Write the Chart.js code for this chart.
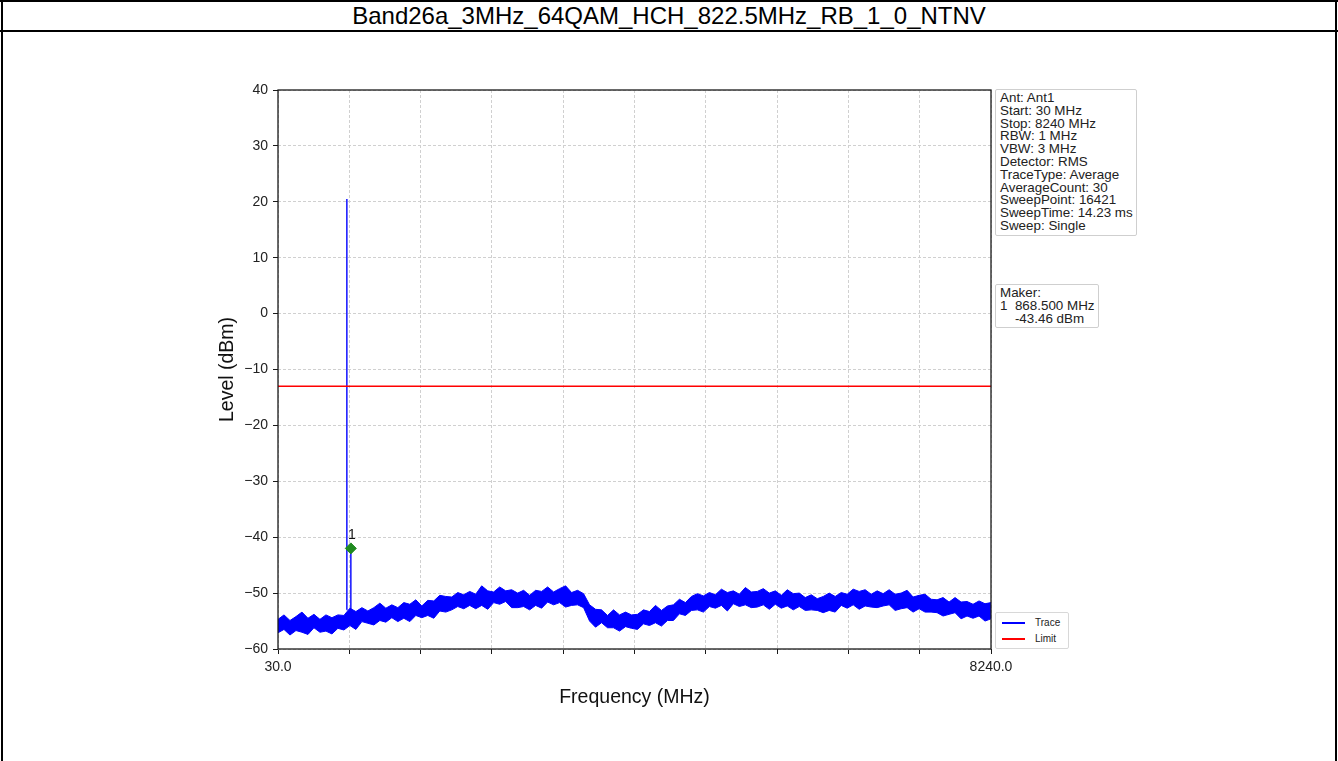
<!DOCTYPE html>
<html lang="en">
<head>
<meta charset="UTF-8" />
<title>Band26a spurious emission</title>
<script src="https://cdn.jsdelivr.net/npm/chart.js"></script>
<style>
  html, body { margin: 0; padding: 0; background: #fff; }
  body { width: 1338px; height: 761px; position: relative; overflow: hidden; font-family: "Liberation Sans", Arial, sans-serif; }
  #title { position: absolute; left: 0; top: 1px; width: 1338px; height: 29px; line-height: 29px; text-align: center; font-size: 24px; color: #000; }
  .frame { position: absolute; background: #000; }
  #chart { position: absolute; left: 0; top: 0; }
  .box { position: absolute; background: #fff; border: 1px solid #cfcfcf; border-radius: 2px; color: #222; font-size: 13.4px; line-height: 12.8px; padding: 2px 3px 2px 4px; white-space: pre; }
  #legend { position: absolute; left: 995px; top: 612px; width: 72px; height: 35px; border: 1px solid #d8d8d8; border-radius: 2px; background: #fff; font-size: 10px; color: #222; }
  #legend .row { position: absolute; left: 6px; height: 12px; line-height: 12px; }
  #legend .sw { display: inline-block; width: 23px; height: 2px; vertical-align: middle; margin-right: 10px; }
</style>
</head>
<body>
<div class="frame" style="left:0; top:0; width:1338px; height:2px;"></div>
<div id="title">Band26a_3MHz_64QAM_HCH_822.5MHz_RB_1_0_NTNV</div>
<div class="frame" style="left:1px; top:0; width:2px; height:761px;"></div>
<div class="frame" style="left:1335px; top:0; width:2px; height:761px;"></div>
<div class="frame" style="left:0; top:30px; width:1338px; height:2px;"></div>
<canvas id="chart" width="1338" height="761"></canvas>
<div id="info" class="box" style="left:995px; top:89px;"></div>
<div id="marker" class="box" style="left:995px; top:284px;"></div>
<div id="legend">
  <div class="row" style="top:4px;"><span class="sw" style="background:#0000ff;"></span>Trace</div>
  <div class="row" style="top:20px;"><span class="sw" style="background:#ff0000;"></span>Limit</div>
</div>
<script>
// sweep range (MHz)
const freqStart = 30;
const freqStop = 8240;

// noise floor of the averaged trace (dBm): upper and lower edge of the band,
// read at evenly spaced points over the sweep
const traceUpper = [
  -54.7,-53.9,-54.9,-54.2,-53.4,-54.5,-53.8,-54.7,-53.9,-54.4,
  -53.9,-54.0,-52.7,-53.3,-52.6,-53.2,-52.6,-51.8,-52.7,-52.1,
  -52.6,-51.7,-52.0,-51.2,-52.3,-51.3,-51.4,-50.4,-50.6,-50.7,
  -49.9,-50.3,-49.7,-50.2,-48.7,-49.6,-49.8,-48.9,-49.6,-49.4,
  -50.0,-49.5,-50.4,-49.5,-49.7,-48.9,-49.8,-49.2,-48.7,-49.9,
  -49.5,-50.1,-52.1,-52.9,-53.0,-54.0,-53.0,-53.9,-53.4,-53.9,
  -53.8,-53.0,-53.3,-52.2,-53.1,-52.3,-52.1,-51.1,-51.7,-50.6,
  -50.1,-50.5,-49.9,-50.3,-49.3,-49.9,-49.6,-50.2,-49.0,-49.8,
  -49.7,-49.2,-50.0,-49.6,-50.4,-49.4,-50.1,-50.0,-50.8,-50.3,
  -51.0,-50.6,-50.0,-50.6,-49.9,-50.2,-49.3,-49.7,-49.4,-50.2,
  -49.6,-50.1,-49.4,-50.2,-50.0,-49.5,-50.7,-50.4,-50.2,-51.1,
  -51.2,-50.8,-51.6,-50.8,-51.6,-51.5,-52.0,-51.4,-51.9,-51.7
];
const traceLower = [
  -57.1,-56.5,-57.5,-56.7,-57.0,-57.4,-56.2,-57.0,-56.8,-57.3,
  -56.3,-56.6,-55.8,-56.5,-55.1,-55.4,-55.7,-54.9,-55.2,-54.4,
  -55.1,-54.5,-55.1,-54.0,-54.4,-54.0,-54.5,-53.2,-53.4,-53.0,
  -52.4,-52.8,-52.2,-52.8,-52.2,-52.9,-51.7,-52.0,-51.5,-52.6,
  -52.6,-52.4,-53.0,-52.2,-52.7,-51.6,-52.1,-51.7,-52.5,-52.2,
  -52.1,-52.6,-55.0,-56.1,-55.3,-56.2,-56.2,-56.8,-56.0,-56.3,
  -56.5,-55.5,-55.8,-55.3,-55.9,-54.9,-54.9,-53.7,-54.0,-53.1,
  -53.0,-53.4,-52.4,-52.7,-52.2,-53.2,-51.9,-52.4,-52.1,-52.6,
  -52.5,-52.1,-52.9,-52.0,-52.7,-52.3,-53.0,-52.4,-53.1,-53.0,
  -53.1,-53.5,-53.1,-53.4,-52.2,-52.7,-52.1,-52.9,-52.3,-52.5,
  -52.6,-52.3,-52.1,-53.1,-52.8,-52.6,-53.4,-52.8,-53.4,-53.4,
  -53.5,-54.1,-53.8,-53.5,-54.6,-54.1,-54.5,-54.1,-55.0,-54.6
];

// carrier and marker peaks of the trace (null splits the two)
const spikeFreq = [821.5, 822.5, 823.5, 845.0, 867.5, 868.5, 869.5];
const spikeLevel = [-53.0, 20.5, -53.0, null, -53.2, -42.0, -53.2];

const limitLevel = -13;
const markerFreq = 868.5;
const markerLevel = -42.0;

const xTickValues = [30, 851, 1672, 2493, 3314, 4135, 4956, 5777, 6598, 7419, 8240];

const infoLines = ['Ant: Ant1', 'Start: 30 MHz', 'Stop: 8240 MHz', 'RBW: 1 MHz', 'VBW: 3 MHz',
  'Detector: RMS', 'TraceType: Average', 'AverageCount: 30', 'SweepPoint: 16421',
  'SweepTime: 14.23 ms', 'Sweep: Single'];
const markerLines = ['Maker:', '1  868.500 MHz', '    -43.46 dBm'];

document.getElementById('info').textContent = infoLines.join('\n');
document.getElementById('marker').textContent = markerLines.join('\n');

const step = (freqStop - freqStart) / (traceUpper.length - 1);
const upperPts = traceUpper.map((v, i) => ({ x: freqStart + i * step, y: v }));
const lowerPts = traceLower.map((v, i) => ({ x: freqStart + i * step, y: v }));
const spikePts = spikeFreq.map((f, i) => ({ x: f, y: spikeLevel[i] }));

const FONT = '"Liberation Sans", Arial, sans-serif';
const BLUE = '#0000ff';

const boxPlugin = {
  id: 'box',
  afterDraw(chart) {
    const { ctx, chartArea: a } = chart;
    ctx.save();
    ctx.strokeStyle = '#1a1a1a';
    ctx.lineWidth = 1.3;
    ctx.strokeRect(a.left, a.top, a.right - a.left, a.bottom - a.top);
    // marker number above the diamond
    const m = chart.getDatasetMeta(0).data[0];
    ctx.fillStyle = '#111';
    ctx.font = '14px ' + FONT;
    ctx.textAlign = 'center';
    ctx.textBaseline = 'middle';
    ctx.fillText('1', m.x + 1, m.y - 13);
    ctx.restore();
  }
};

new Chart(document.getElementById('chart'), {
  type: 'line',
  data: {
    datasets: [
      { label: 'Marker', data: [{ x: markerFreq, y: markerLevel }], showLine: false,
        pointStyle: 'rectRot', pointRadius: 5.5, backgroundColor: '#1f8a1f', borderColor: '#1f8a1f', order: 0 },
      { label: 'Limit', data: [{ x: freqStart, y: limitLevel }, { x: freqStop, y: limitLevel }],
        borderColor: '#ff0000', borderWidth: 1.3, pointRadius: 0, order: 1 },
      { label: 'Trace', data: spikePts, borderColor: BLUE, borderWidth: 1.4, pointRadius: 0,
        spanGaps: false, order: 2 },
      { label: 'Trace lower', data: lowerPts, borderColor: BLUE, borderWidth: 1, pointRadius: 0, order: 3 },
      { label: 'Trace upper', data: upperPts, borderColor: BLUE, borderWidth: 1, pointRadius: 0,
        fill: '-1', backgroundColor: BLUE, order: 3 }
    ]
  },
  options: {
    responsive: false,
    animation: false,
    layout: { padding: { left: 218, right: 347, top: 90, bottom: 54 } },
    plugins: { legend: { display: false }, tooltip: { enabled: false } },
    scales: {
      x: {
        type: 'linear', min: freqStart, max: freqStop,
        afterBuildTicks: s => { s.ticks = xTickValues.map(v => ({ value: v })); },
        afterFit: s => { s.height = 58; },
        ticks: {
          autoSkip: false, maxRotation: 0, padding: 5, color: '#222',
          font: { family: FONT, size: 14 },
          callback: (v, i, arr) => (i === 0 || i === arr.length - 1) ? v.toFixed(1) : ''
        },
        grid: { color: '#d0d0d0', tickColor: '#1a1a1a', tickLength: 5, tickBorderDash: [] },
        border: { display: false, dash: [3, 2] },
        title: { display: true, text: 'Frequency (MHz)', color: '#111', padding: 0,
          font: { family: FONT, size: 19.5, lineHeight: 1 } }
      },
      y: {
        min: -60, max: 40,
        afterFit: s => { s.width = 60; },
        ticks: { stepSize: 10, padding: 5, color: '#222', font: { family: FONT, size: 14 },
          callback: v => (v < 0 ? '\u2212' + Math.abs(v) : String(v)) },
        grid: { color: '#d0d0d0', tickColor: '#1a1a1a', tickLength: 5, tickBorderDash: [] },
        border: { display: false, dash: [3, 2] },
        title: { display: true, text: 'Level (dBm)', color: '#111', padding: 0,
          font: { family: FONT, size: 19.5, lineHeight: 1 } }
      }
    }
  },
  plugins: [boxPlugin]
});
</script>
</body>
</html>
